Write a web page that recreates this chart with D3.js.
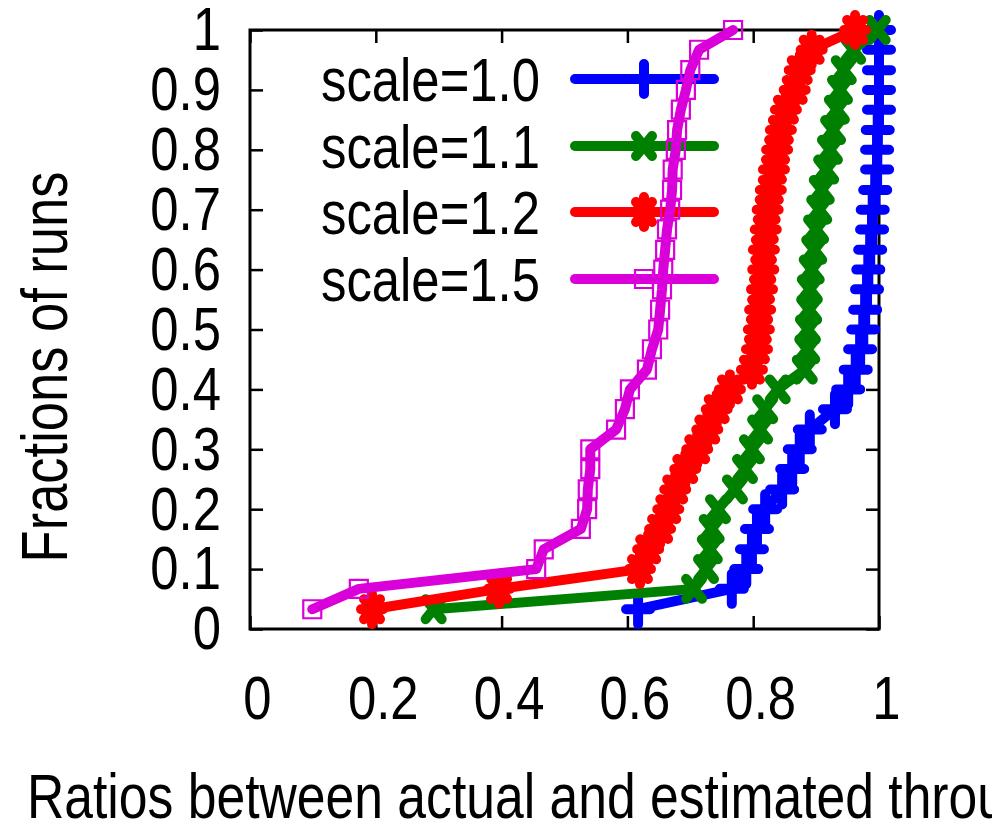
<!DOCTYPE html>
<html>
<head>
<meta charset="utf-8">
<script src="https://cdn.jsdelivr.net/npm/d3@7/dist/d3.min.js"></script>
<style>
  body { margin: 0; background: #fff; }
  svg { display: block; font-family: "Liberation Sans", Arial, sans-serif; }
</style>
</head>
<body>
<svg id="chart" width="992" height="822"></svg>
<script>
// fraction of runs (CDF steps, 30 runs)
var runFractions = [0.033, 0.067, 0.1, 0.133, 0.167, 0.2, 0.233, 0.267, 0.3, 0.333,
  0.367, 0.4, 0.433, 0.467, 0.5, 0.533, 0.567, 0.6, 0.633, 0.667,
  0.7, 0.733, 0.767, 0.8, 0.833, 0.867, 0.9, 0.933, 0.967, 1.0];

// ratio values per scale
var scale10 = [0.617, 0.766, 0.789, 0.798, 0.806, 0.819, 0.846, 0.862, 0.874, 0.890,
  0.930, 0.951, 0.963, 0.970, 0.975, 0.978, 0.981, 0.983, 0.986, 0.989,
  0.990, 0.994, 0.997, 0.997, 0.998, 1.0, 1.0, 1.0, 1.0, 1.0];
var scale11 = [0.292, 0.706, 0.725, 0.731, 0.734, 0.744, 0.771, 0.787, 0.798, 0.811,
  0.819, 0.839, 0.882, 0.886, 0.887, 0.889, 0.890, 0.893, 0.897, 0.900,
  0.905, 0.909, 0.916, 0.922, 0.927, 0.933, 0.938, 0.944, 0.959, 0.998];
var scale12 = [0.194, 0.396, 0.620, 0.633, 0.652, 0.665, 0.676, 0.692, 0.711, 0.727,
  0.742, 0.763, 0.798, 0.806, 0.809, 0.811, 0.814, 0.816, 0.817, 0.820,
  0.823, 0.828, 0.833, 0.838, 0.844, 0.852, 0.866, 0.874, 0.893, 0.962];
var scale15 = [0.099, 0.173, 0.455, 0.467, 0.526, 0.536, 0.537, 0.541, 0.541, 0.582,
  0.596, 0.604, 0.631, 0.639, 0.649, 0.652, 0.655, 0.657, 0.660, 0.663,
  0.668, 0.671, 0.672, 0.677, 0.679, 0.685, 0.693, 0.700, 0.714, 0.768];

var seriesNames = ['scale=1.0', 'scale=1.1', 'scale=1.2', 'scale=1.5'];
var seriesValues = [scale10, scale11, scale12, scale15];
var seriesColors = ['#0000ff', '#008000', '#ff0000', '#d900d9'];
var seriesMarkers = ['plus', 'cross', 'star', 'square'];

var xTicks = [0, 0.2, 0.4, 0.6, 0.8, 1];
var yTicks = [0, 0.1, 0.2, 0.3, 0.4, 0.5, 0.6, 0.7, 0.8, 0.9, 1];

// narrow font look: squeeze text horizontally
var SQ = 0.82;
var plotL = 250, plotR = 879, plotT = 30, plotB = 629;

var svg = d3.select('#chart');
svg.append('rect').attr('width', 992).attr('height', 822).attr('fill', '#fff');

var x = d3.scaleLinear().domain([0, 1]).range([plotL, plotR]);
var y = d3.scaleLinear().domain([0, 1]).range([plotB, plotT]);

function fmt(d) { return d === 0 || d === 1 ? String(d) : d3.format('.1f')(d); }

function narrowText(g, tx, ty, txt, size, anchor) {
  return g.append('text')
    .attr('transform', 'translate(' + tx + ',' + ty + ') scale(' + SQ + ',1)')
    .attr('text-anchor', anchor || 'start')
    .style('font-size', size + 'px')
    .attr('fill', '#000')
    .text(txt);
}

// axes, ticks pointing inward on all four sides
var gx = svg.append('g').attr('transform', 'translate(0,' + plotB + ')')
  .call(d3.axisBottom(x).tickValues(xTicks).tickFormat(fmt).tickSizeInner(-13).tickSizeOuter(0).tickPadding(46));
var gxt = svg.append('g').attr('transform', 'translate(0,' + plotT + ')')
  .call(d3.axisTop(x).tickValues(xTicks).tickFormat('').tickSizeInner(-13).tickSizeOuter(0));
var gy = svg.append('g').attr('transform', 'translate(' + plotL + ',0)')
  .call(d3.axisLeft(y).tickValues(yTicks).tickFormat(fmt).tickSizeInner(-13).tickSizeOuter(0).tickPadding(29));
var gyr = svg.append('g').attr('transform', 'translate(' + plotR + ',0)')
  .call(d3.axisRight(y).tickValues(yTicks).tickFormat('').tickSizeInner(-13).tickSizeOuter(0));

[gx, gxt, gy, gyr].forEach(function(g) {
  g.select('.domain').remove();
  g.selectAll('line').attr('stroke', '#000').attr('stroke-width', 2.5);
  g.selectAll('text').attr('fill', '#000').style('font-size', '62px')
    .style('font-family', '"Liberation Sans", Arial, sans-serif');
});
gx.selectAll('text')
  .attr('transform', 'scale(' + SQ + ',1)')
  .attr('dx', 7 / SQ);
gy.selectAll('text')
  .attr('transform', 'scale(' + SQ + ',1)')
  .attr('x', -29 / SQ);

svg.append('rect')
  .attr('x', plotL).attr('y', plotT)
  .attr('width', plotR - plotL).attr('height', plotB - plotT)
  .attr('fill', 'none').attr('stroke', '#000').attr('stroke-width', 3);

// axis titles
narrowText(svg, 27, 818, 'Ratios between actual and estimated throughput', 63);
svg.append('text')
  .attr('transform', 'translate(67,367) rotate(-90) scale(' + SQ + ',1)')
  .attr('text-anchor', 'middle')
  .style('font-size', '64px')
  .text('Fractions of runs');

// point shapes (gnuplot-like, a bit narrower than tall)
function markerPath(type) {
  if (type === 'plus') return 'M-12,0H12M0,-15V15';
  if (type === 'cross') return 'M-8,-10L8,10M-8,10L8,-10';
  if (type === 'star') return 'M-11,0H11M0,-15V15M-8,-10L8,10M-8,10L8,-10';
  return 'M-9,-9H9V9H-9Z';
}

function drawMarkers(g, pts, i) {
  var sq = seriesMarkers[i] === 'square';
  g.selectAll('path.pt')
    .data(pts)
    .enter()
    .append('path')
    .attr('class', 'pt')
    .attr('d', markerPath(seriesMarkers[i]))
    .attr('transform', function(d) { return 'translate(' + d[0] + ',' + d[1] + ')'; })
    .attr('fill', 'none')
    .attr('stroke', seriesColors[i])
    .attr('stroke-width', sq ? 2.2 : 10)
    .attr('stroke-linecap', 'round');
}

var line = d3.line()
  .x(function(d) { return x(d[0]); })
  .y(function(d) { return y(d[1]); });

var legendY = [79, 146, 212, 279];

seriesValues.forEach(function(vals, i) {
  var g = svg.append('g');
  // key entry
  narrowText(g, 540, legendY[i] + 22, seriesNames[i], 62, 'end');
  g.append('line')
    .attr('x1', 575).attr('x2', 714)
    .attr('y1', legendY[i]).attr('y2', legendY[i])
    .attr('stroke', seriesColors[i]).attr('stroke-width', 10)
    .attr('stroke-linecap', 'round');
  drawMarkers(g, [[644, legendY[i]]], i);

  // data
  var pts = vals.map(function(v, k) { return [v, runFractions[k]]; });
  g.append('path')
    .datum(pts)
    .attr('d', line)
    .attr('fill', 'none')
    .attr('stroke', seriesColors[i])
    .attr('stroke-width', 10)
    .attr('stroke-linejoin', 'round')
    .attr('stroke-linecap', 'round');
  var gm = g.append('g');
  drawMarkers(gm, pts.map(function(p) { return [x(p[0]), y(p[1])]; }), i);
});
</script>
</body>
</html>
